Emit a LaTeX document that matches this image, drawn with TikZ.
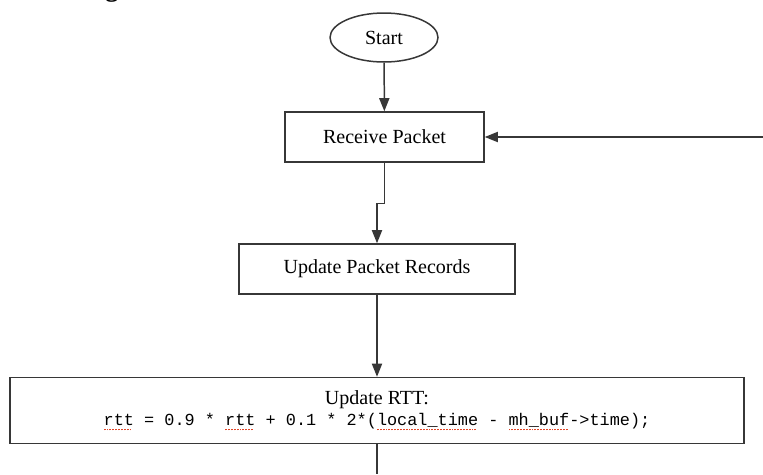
\documentclass[tikz,border=0pt]{standalone}
\usepackage{fontspec}
\setmainfont{Liberation Serif}
\setmonofont{Liberation Mono}
\usepackage{tikz}
\usetikzlibrary{shapes,arrows.meta,positioning,calc}

\definecolor{linegray}{RGB}{55,55,55}
\definecolor{spellred}{RGB}{225,70,40}
% dotted red mark under the code words
\newsavebox{\spellbox}
\newcommand{\spellmark}[1]{\sbox{\spellbox}{#1}%
  \rlap{\textcolor{spellred}{\leaders\hbox{\rule[-0.55ex]{0.11em}{0.11em}\kern0.06em}\hskip\wd\spellbox}}%
  \usebox{\spellbox}}

\begin{document}
\begin{tikzpicture}[x=0.02cm,y=-0.02cm,
  every node/.style={font=\fontsize{11.4}{13}\selectfont},
  box/.style={draw=linegray, line width=0.85pt, rectangle, inner sep=0pt},
  arr/.style={draw=linegray, line width=0.85pt, -{Triangle[length=7.5pt,width=5.8pt]}},
  plain/.style={draw=linegray, line width=0.85pt}]
\useasboundingbox (0,0) rectangle (763,474);

% Heading, cut off at the top edge
\begin{scope}
\clip (0,0) rectangle (763,474);
\node[anchor=base, font=\fontsize{15}{18}\selectfont\bfseries] (title) at (112,-4) {g};
\end{scope}

% Blocks
\node[box, ellipse, minimum width=2.16cm, minimum height=0.98cm] (start) at (384,37.5) {Start};
\node[box, minimum width=3.98cm, minimum height=1.0cm] (recv) at (384.5,137) {Receive Packet};
\node[box, minimum width=5.52cm, minimum height=1.0cm] (upd) at (377,269) {Update Packet Records};
\node[box, minimum width=14.68cm, minimum height=1.32cm, align=center] (rtt) at (377,410.5)
  {Update RTT:\\[-1pt]
   {\fontsize{9.6}{11}\ttfamily \spellmark{rtt} = 0.9 * \spellmark{rtt} + 0.1 * 2*(\spellmark{local\_time} - \spellmark{mh\_buf}->time);}};

% Loose ends
\coordinate (back) at (763,137);
\coordinate (next) at (377,474);

% Connectors
\draw[arr] (start) -- (recv);
\draw[arr] (recv.south) -- ++(0,41) -| (upd.north);
\draw[arr] (upd) -- (rtt);
\draw[arr] (back) -- (recv.east);
\draw[plain] (rtt.south) -- (next);
\end{tikzpicture}
\end{document}
